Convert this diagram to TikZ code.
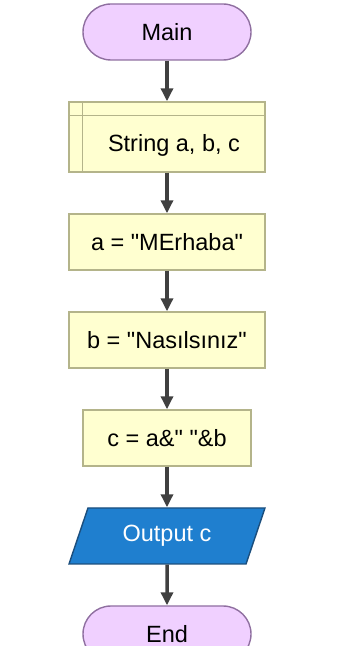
\documentclass[tikz,border=0pt]{standalone}
\usepackage{fontspec}
\setmainfont{Liberation Sans}[Ligatures=TeXOff]
\usetikzlibrary{arrows.meta,shapes.geometric}
\definecolor{termfill}{HTML}{F0D0FF}
\definecolor{termline}{HTML}{8F6FA0}
\definecolor{procfill}{HTML}{FFFFD0}
\definecolor{procline}{HTML}{B4B48A}
\definecolor{iofill}{HTML}{1F7FCF}
\definecolor{ioline}{HTML}{1B4E7D}
\definecolor{flowline}{HTML}{404040}
\tikzset{
  term/.style={draw=termline, fill=termfill, line width=1.4pt, rounded corners=28pt,
    minimum width=168pt, minimum height=56pt, inner sep=0pt},
  proc/.style={draw=procline, fill=procfill, line width=1.4pt,
    minimum width=196pt, minimum height=56pt, inner sep=0pt},
  iobox/.style={trapezium, trapezium left angle=63.4, trapezium right angle=116.6,
    trapezium stretches=true, draw=ioline, fill=iofill, text=white, line width=1.4pt,
    minimum width=196pt, minimum height=56pt, inner sep=0pt},
  flow/.style={draw=flowline, line width=3.5pt, -{Triangle[width=12pt,length=13pt]}}
}
\begin{document}
\begin{tikzpicture}[x=1pt,y=1pt,font=\fontsize{23.5}{27}\selectfont]
	\useasboundingbox (0,0) rectangle (348,646);
	\node[term] (main) at (167,614) {Main};
	\node[proc, minimum height=70pt, label={[xshift=7pt,yshift=-8pt]center:String a, b, c}] (decl) at (167,509) {};
	  \draw[procline, line width=1.4pt] ([xshift=14pt]decl.north west) -- ([xshift=14pt]decl.south west);
	  \draw[procline, line width=1.4pt] ([yshift=-14pt]decl.north west) -- ([yshift=-14pt]decl.north east);
	\node[proc] (seta) at (167,404) {a = "MErhaba"};
	\node[proc] (setb) at (167,306) {b = "Nasılsınız"};
	\node[proc, minimum width=168pt] (setc) at (167,208) {c = a\&" "\&b};
	\node[iobox] (out) at (167,110) {Output c};
	\node[term] (end) at (167,12) {End};
	\foreach \a/\b in {main/decl,decl/seta,seta/setb,setb/setc,setc/out,out/end}
	  \draw[flow] (\a) -- (\b);
\end{tikzpicture}
\end{document}
